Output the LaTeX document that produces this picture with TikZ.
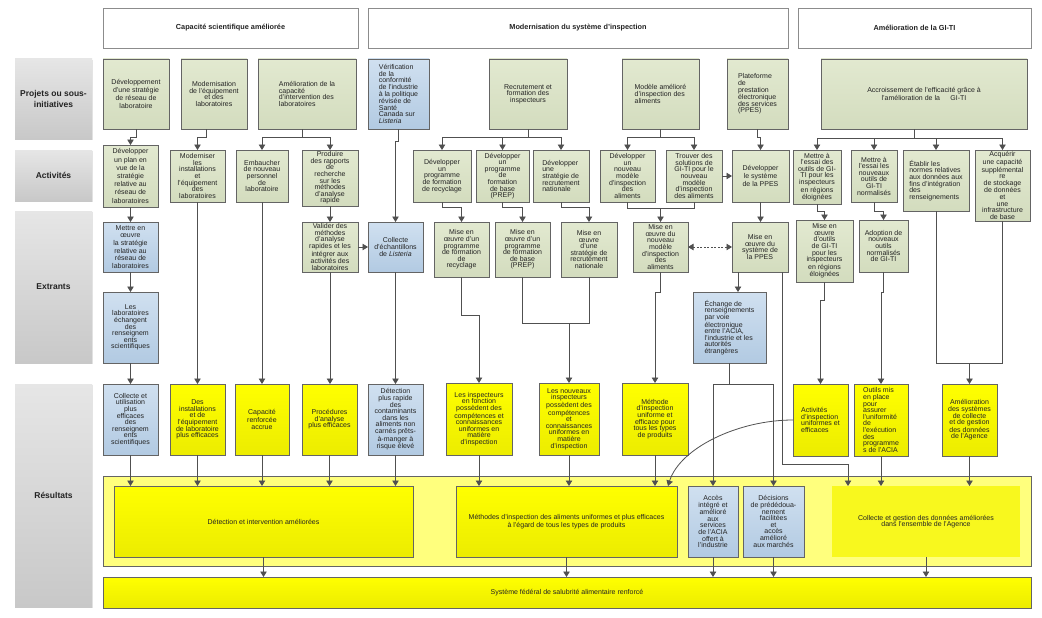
\documentclass[tikz,border=0pt]{standalone}
\usepackage{fontspec}
\setmainfont{Liberation Sans}
\usetikzlibrary{arrows.meta,shadows,calc}
\definecolor{grnT}{RGB}{226,233,208}
\definecolor{grnB}{RGB}{211,220,190}
\definecolor{bluT}{RGB}{208,224,240}
\definecolor{bluB}{RGB}{178,202,226}
\definecolor{yelT}{RGB}{255,255,0}
\definecolor{yelB}{RGB}{236,236,0}
\definecolor{rowT}{RGB}{230,230,230}
\definecolor{rowB}{RGB}{200,200,200}
\definecolor{edgec}{RGB}{100,100,100}
\definecolor{linec}{RGB}{80,80,80}
\definecolor{zoneC}{RGB}{255,255,125}
\definecolor{softC}{RGB}{248,248,30}
\definecolor{txtc}{RGB}{35,35,35}
\tikzset{
  bx/.style={draw=edgec, line width=0.8pt, anchor=north west, inner sep=1pt, outer sep=0pt,
    align=center, text=txtc, font=\fontsize{7}{6.6}\selectfont,
    drop shadow={shadow xshift=1.2pt, shadow yshift=-1.2pt, opacity=0.25}},
  gbox/.style={bx, top color=grnT, bottom color=grnB},
  bbox/.style={bx, top color=bluT, bottom color=bluB},
  ybox/.style={bx, top color=yelT, bottom color=yelB},
  hbox/.style={bx, draw=black!45, fill=white, font=\bfseries\fontsize{7.3}{8}\selectfont},
  rowlab/.style={anchor=north west, inner sep=0pt, outer sep=0pt, align=center, text=txtc,
    top color=rowT, bottom color=rowB, font=\bfseries\fontsize{8.5}{10.5}\selectfont,
    drop shadow={shadow xshift=1.2pt, shadow yshift=-1.2pt, opacity=0.2}},
  zone/.style={bx, fill=zoneC},
  softy/.style={anchor=north west, inner sep=1pt, outer sep=0pt, align=center, text=txtc,
    font=\fontsize{7}{6.6}\selectfont, fill=softC},
  sp8/.style={font=\fontsize{7}{8.2}\selectfont},
  sp75/.style={font=\fontsize{7}{7.6}\selectfont},
  conn/.style={draw=linec, line width=0.8pt},
  arr/.style={conn, -{Triangle[width=6.5pt,length=5.5pt]}},
  darr/.style={conn, dash pattern=on 2pt off 1.5pt, {Triangle[width=6.5pt,length=5.5pt]}-{Triangle[width=6.5pt,length=5.5pt]}},
}
\newcommand\mybox[7]{\node[#2, minimum width={(#5-#3)*1pt}, minimum height={(#6-#4)*1pt}] (#1) at (#3,#4) {#7};}
\begin{document}
\begin{tikzpicture}[x=1pt,y=-1pt]
\fill[white] (0,0) rectangle (1042,618);
\useasboundingbox (0,0) rectangle (1042,618);

% row labels
\mybox{L1}{rowlab}{15}{59}{92}{139}{Projets ou sous-\\initiatives}
\mybox{L2}{rowlab}{15}{150}{92}{201}{Activités}
\mybox{L3}{rowlab}{15}{211}{92}{363}{Extrants}
\mybox{L4}{rowlab}{15}{384}{92}{607}{Résultats}

% headers
\mybox{H1}{hbox}{103}{8}{358}{48}{Capacité scientifique améliorée}
\mybox{H2}{hbox}{368}{8}{788}{48}{Modernisation du système d’inspection}
\mybox{H3}{hbox}{798}{8}{1031}{48}{Amélioration de la GI-TI}

% zone
\mybox{Z}{zone}{103}{476}{1031}{566}{}

% projects
\mybox{P1}{gbox,sp8}{103}{59}{169}{129}{Développement\\d’une stratégie\\de réseau de\\laboratoire}
\mybox{P2}{gbox}{181}{59}{247}{129}{Modernisation\\de l’équipement\\et des\\laboratoires}
\mybox{P3}{gbox,align=left}{258}{59}{356}{129}{Amélioration de la\\capacité\\d’intervention des\\laboratoires}
\mybox{P4}{bbox,align=left}{368}{59}{429}{129}{Vérification\\de la\\conformité\\de l’industrie\\à la politique\\révisée de\\Santé\\Canada sur\\\textit{Listeria}}
\mybox{P5}{gbox}{489}{59}{567}{129}{Recrutement et\\formation des\\inspecteurs}
\mybox{P6}{gbox,align=left}{622}{59}{699}{129}{Modèle amélioré\\d’inspection des\\aliments}
\mybox{P7}{gbox,align=left}{727}{59}{788}{129}{Plateforme\\de\\prestation\\électronique\\des services\\(PPES)}
\mybox{P8}{gbox}{821}{59}{1027}{129}{Accroissement de l’efficacité grâce à\\l’amélioration de la\hspace{1.5em}GI-TI}

% activities
\mybox{A1}{gbox,sp8}{103}{145}{158}{207}{Développer\\un plan en\\vue de la\\stratégie\\relative au\\réseau de\\laboratoires}
\mybox{A2}{gbox}{170}{150}{225}{202}{Moderniser\\les\\installations\\et\\l’équipement\\des\\laboratoires}
\mybox{A3}{gbox}{236}{150}{288}{202}{Embaucher\\de nouveau\\personnel\\de\\laboratoire}
\mybox{A4}{gbox}{302}{150}{358}{206}{Produire\\des rapports\\de\\recherche\\sur les\\méthodes\\d’analyse\\rapide}
\mybox{A5}{gbox}{413}{150}{471}{202}{Développer\\un\\programme\\de formation\\de recyclage}
\mybox{A6}{gbox}{476}{150}{529}{202}{Développer\\un\\programme\\de\\formation\\de base\\(PREP)}
\mybox{A7}{gbox,align=left}{533}{150}{589}{202}{Développer\\une\\stratégie de\\recrutement\\nationale}
\mybox{A8}{gbox}{600}{150}{655}{202}{Développer\\un\\nouveau\\modèle\\d’inspection\\des\\aliments}
\mybox{A9}{gbox}{666}{150}{722}{202}{Trouver des\\solutions de\\GI-TI pour le\\nouveau\\modèle\\d’inspection\\des aliments}
\mybox{A10}{gbox,sp75}{732}{150}{789}{202}{Développer\\le système\\de la PPES}
\mybox{A11}{gbox}{793}{150}{841}{204}{Mettre à\\l’essai des\\outils de GI-\\TI pour les\\inspecteurs\\en régions\\éloignées}
\mybox{A12}{gbox}{851}{150}{897}{202}{Mettre à\\l’essai les\\nouveaux\\outils de\\GI-TI\\normalisés}
\mybox{A13}{gbox,align=left}{903}{150}{969}{211}{Établir les\\normes relatives\\aux données aux\\fins d’intégration\\des\\renseignements}
\mybox{A14}{gbox}{975}{150}{1030}{221}{Acquérir\\une capacité\\supplémental\\re\\de stockage\\de données\\et\\une\\infrastructure\\de base}

% outputs
\mybox{E1}{bbox,sp75}{103}{222}{158}{272}{Mettre en\\œuvre\\la stratégie\\relative au\\réseau de\\laboratoires}
\mybox{E2}{bbox}{103}{292}{158}{363}{Les\\laboratoires\\échangent\\des\\renseignem\\ents\\scientifiques}
\mybox{E3}{gbox}{302}{222}{358}{272}{Valider des\\méthodes\\d’analyse\\rapides et les\\intégrer aux\\activités des\\laboratoires}
\mybox{E4}{bbox}{368}{222}{423}{272}{Collecte\\d’échantillons\\de \textit{Listeria}}
\mybox{E5}{gbox}{434}{222}{489}{277}{Mise en\\œuvre d’un\\programme\\de formation\\de\\recyclage}
\mybox{E6}{gbox}{495}{222}{550}{277}{Mise en\\œuvre d’un\\programme\\de formation\\de base\\(PREP)}
\mybox{E7}{gbox}{561}{222}{617}{277}{Mise en\\œuvre\\d’une\\stratégie de\\recrutement\\nationale}
\mybox{E8}{gbox}{633}{222}{688}{272}{Mise en\\œuvre du\\nouveau\\modèle\\d’inspection\\des\\aliments}
\mybox{E9}{gbox}{732}{222}{788}{272}{Mise en\\œuvre du\\système de\\la PPES}
\mybox{E10}{bbox,align=left}{693}{292}{766}{363}{Échange de\\renseignements\\par voie\\électronique\\entre l’ACIA,\\l’industrie et les\\autorités\\étrangères}
\mybox{E11}{gbox}{796}{220}{853}{282}{Mise en\\œuvre\\d’outils\\de GI-TI\\pour les\\inspecteurs\\en régions\\éloignées}
\mybox{E12}{gbox}{859}{220}{908}{272}{Adoption de\\nouveaux\\outils\\normalisés\\de GI-TI}

% results
\mybox{R1}{bbox}{103}{384}{158}{455}{Collecte et\\utilisation\\plus\\efficaces\\des\\renseignem\\ents\\scientifiques}
\mybox{R2}{ybox}{170}{384}{225}{455}{Des\\installations\\et de\\l’équipement\\de laboratoire\\plus efficaces}
\mybox{R3}{ybox}{235}{384}{289}{455}{Capacité\\renforcée\\accrue}
\mybox{R4}{ybox}{302}{384}{357}{455}{Procédures\\d’analyse\\plus efficaces}
\mybox{R5}{bbox}{368}{384}{423}{455}{Détection\\plus rapide\\des\\contaminants\\dans les\\aliments non\\carnés prêts-\\à-manger à\\risque élevé}
\mybox{R6}{ybox}{446}{383}{512}{455}{Les inspecteurs\\en fonction\\possèdent des\\compétences et\\connaissances\\uniformes en\\matière\\d’inspection}
\mybox{R7}{ybox}{539}{383}{599}{455}{Les nouveaux\\inspecteurs\\possèdent des\\compétences\\et\\connaissances\\uniformes en\\matière\\d’inspection}
\mybox{R8}{ybox}{622}{383}{688}{455}{Méthode\\d’inspection\\uniforme et\\efficace pour\\tous les types\\de produits}
\mybox{R9}{ybox,align=left}{793}{384}{848}{456}{Activités\\d’inspection\\uniformes et\\efficaces}
\mybox{R10}{ybox,align=left}{854}{384}{908}{456}{Outils mis\\en place\\pour\\assurer\\l’uniformité\\de\\l’exécution\\des\\programme\\s de l’ACIA}
\mybox{R11}{ybox}{942}{384}{997}{456}{Amélioration\\des systèmes\\de collecte\\et de gestion\\des données\\de l’Agence}

% outcomes
\mybox{O1}{ybox}{114}{486}{413}{557}{Détection et intervention améliorées}
\mybox{O2}{ybox}{456}{486}{677}{557}{Méthodes d’inspection des aliments uniformes et plus efficaces\\à l’égard de tous les types de produits}
\mybox{O3}{bbox}{688}{486}{738}{557}{Accès\\intégré et\\amélioré\\aux\\services\\de l’ACIA\\offert à\\l’industrie}
\mybox{O4}{bbox}{743}{486}{804}{557}{Décisions\\de prédédoua-\\nement\\facilitées\\et\\accès\\amélioré\\aux marchés}
\mybox{O5}{softy}{832}{486}{1020}{557}{Collecte et gestion des données améliorées\\dans l’ensemble de l’Agence}
\mybox{F}{ybox}{103}{577}{1031}{608}{Système fédéral de salubrité alimentaire renforcé}

% connectors: projects -> activities
\draw[arr] (P1.south) -- ++(0,8) -| (A1.north);
\draw[arr] ([xshift=-8pt]P2.south) -- ++(0,8) -| (A2.north);
\draw[conn] ([xshift=-5pt]P3.south) -- ++(0,8) coordinate (j3);
\draw[arr] (j3) -| (A3.north);
\draw[arr] (j3) -| (A4.north);
\draw[arr] (P4.south) -- ++(0,12) -| (E4.north);
\draw[conn] (P5.south) -- ++(0,8) coordinate (j5);
\draw[arr] (j5) -| (A5.north);
\draw[arr] (j5) -| (A6.north);
\draw[arr] (j5) -| (A7.north);
\draw[conn] (P6.south) -- ++(0,8) coordinate (j6);
\draw[arr] (j6) -| (A8.north);
\draw[arr] (j6) -| (A9.north);
\draw[arr] (P7.south) -- ++(0,8) -| (A10.north);
\draw[conn] ([xshift=-10pt]P8.south) -- ++(0,9) coordinate (j8);
\draw[arr] (j8) -| (A11.north);
\draw[arr] (j8) -| (A12.north);
\draw[arr] (j8) -| (A13.north);
\draw[arr] (j8) -| (A14.north);

% activities -> outputs
\draw[arr] (A1.south) -- (E1.north);
\draw[arr] (E1.south) -- (E2.north);
\draw[arr] (E2.south) -- (R1.north);
\draw[arr] (A2.south) -- (R2.north);
\draw[arr] (A3.south) -- (A3.south |- R3.north);
\draw[arr] (A4.south) -- (E3.north);
\draw[arr] (E3.south) -- (E3.south |- R4.north);
\draw[arr] (E3.east) -- (E4.west);
\draw[arr] (E4.south) -- (E4.south |- R5.north);
\draw[arr] (A5.south) -- ++(0,5) -| (E5.north);
\draw[arr] (A6.south) -- ++(0,5) -| (E6.north);
\draw[arr] (A7.south) -- ++(0,5) -| (E7.north);
\draw[conn] (A8.south) -- ++(0,6) -| (A9.south);
\draw[arr] (E8.north |- A8.south) ++(0,6) -- (E8.north);
\draw[arr] (A9.east) -- (A10.west);
\draw[arr] (A10.south) -- (A10.south |- E9.north);
\draw[darr] (E8.east) -- (E9.west);
\draw[arr] ([xshift=6pt]E9.south west) -- ([xshift=6pt]E9.south west |- E10.north);
\draw[arr] ([xshift=-6pt]E9.south east) |- ([xshift=16pt,yshift=22pt]O5.north west) -- ([xshift=16pt]O5.north west);
\draw[conn] (E10.south) -- ++(0,21) coordinate (j10);
\draw[arr] (j10) -| (O3.north);
\draw[arr] (j10) -| (O4.north);
\draw[arr] (A11.south) -- ++(0,7) -| (E11.north);
\draw[arr] (A12.south) -- ++(0,9) -| (E12.north);
\draw[arr] (E11.south) -- ++(0,18) -| (R9.north);
\draw[arr] (E12.south) -- ++(0,20) -| (R10.north);
\draw[conn] (A13.south) |- (A14.south |- E2.south) -- (A14.south);
\draw[arr] (R11.north |- E2.south) -- (R11.north);
\draw[arr] (E5.south) -- ++(0,38) -| (R6.north);
\draw[conn] (E6.south) -- ++(0,46) -| (E7.south);
\draw[arr] (R7.north |- E6.south) ++(0,46) -- (R7.north);
\draw[arr] (E8.south) -- ++(0,20) -| (R8.north);

% results -> outcomes
\draw[arr] (R1.south) -- (R1.south |- O1.north);
\draw[arr] (R2.south) -- (R2.south |- O1.north);
\draw[arr] (R3.south) -- (R3.south |- O1.north);
\draw[arr] (R4.south) -- (R4.south |- O1.north);
\draw[arr] (R5.south) -- (R5.south |- O1.north);
\draw[arr] (R6.south) -- (R6.south |- O2.north);
\draw[arr] (R7.south) -- (R7.south |- O2.north);
\draw[arr] (R8.south) -- (R8.south |- O2.north);
\draw[arr] (R9.west) .. controls ($(R9.west)+(-55,0)$) and ($(O2.north east)+(3,-38)$) .. ([xshift=-9pt]O2.north east);
\draw[arr] (R10.south) -- (R10.south |- O5.north);
\draw[arr] (R11.south) -- (R11.south |- O5.north);

% outcomes -> final
\draw[arr] (O1.south) -- (O1.south |- F.north);
\draw[arr] (O2.south) -- (O2.south |- F.north);
\draw[arr] (O3.south) -- (O3.south |- F.north);
\draw[arr] (O4.south) -- (O4.south |- F.north);
\draw[arr] (O5.south) -- (O5.south |- F.north);
\end{tikzpicture}
\end{document}
